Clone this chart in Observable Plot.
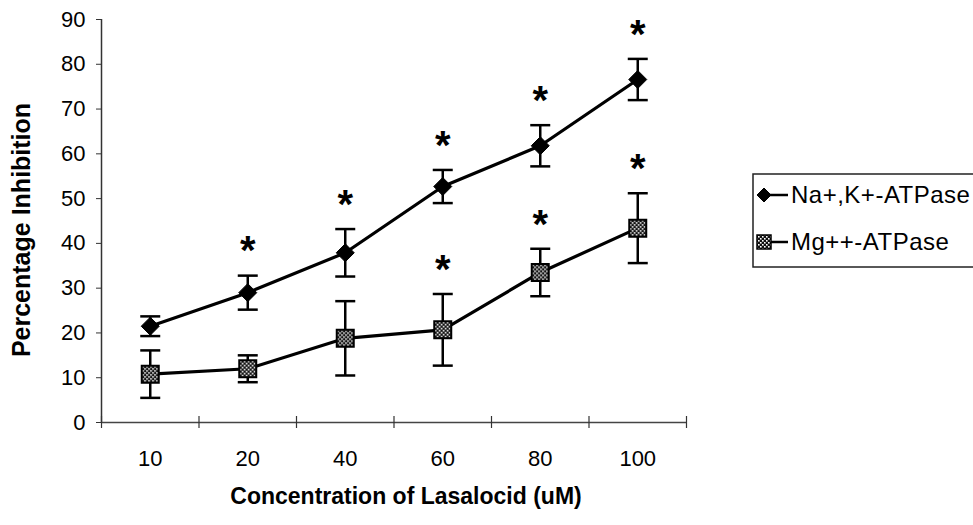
<!DOCTYPE html>
<html>
<head>
<meta charset="utf-8">
<script src="https://cdn.jsdelivr.net/npm/d3@7"></script>
<script src="https://cdn.jsdelivr.net/npm/@observablehq/plot@0.6"></script>
<style>
  html, body { margin: 0; padding: 0; background: #fff; overflow: hidden; }
  #chart { position: relative; width: 973px; height: 525px; }
  #legend { position: absolute; left: 752px; top: 173px; }
</style>
</head>
<body>
<div id="chart"></div>
<script>
// Lasalocid concentrations (uM) and mean % inhibition ± error for each ATPase
const concentrations = ["10", "20", "40", "60", "80", "100"];
const naMean = [21.5, 29.0, 37.9, 52.7, 61.8, 76.6];
const naErr  = [2.2, 3.8, 5.3, 3.7, 4.6, 4.6];
const mgMean = [10.8, 12.0, 18.8, 20.7, 33.5, 43.4];
const mgErr  = [5.3, 3.0, 8.3, 8.0, 5.3, 7.8];
const naSignificant = [false, true, true, true, true, true];
const mgSignificant = [false, false, false, true, true, true];
const seriesNames = ["Na+,K+-ATPase", "Mg++-ATPase"];
const yTicks = d3.range(0, 91, 10);
const xTitle = "Concentration of Lasalocid (uM)";
const yTitle = "Percentage Inhibition";

const FONT = "Arial, 'Liberation Sans', Helvetica, sans-serif";

// one row per (series, concentration); x is the slot centre on an index scale
const rows = [];
[[naMean, naErr, naSignificant], [mgMean, mgErr, mgSignificant]].forEach(([m, e, s], k) => {
  concentrations.forEach((c, i) => {
    rows.push({series: seriesNames[k], conc: c, x: i + 0.5, mean: m[i], err: e[i], sig: s[i]});
  });
});

// marker shapes
const diamond = {draw(ctx, size) {
  const r = Math.sqrt(size / Math.PI);
  ctx.moveTo(0, -r); ctx.lineTo(r, 0); ctx.lineTo(0, r); ctx.lineTo(-r, 0); ctx.closePath();
}};
const square = {draw(ctx, size) {
  const r = Math.sqrt(size / Math.PI);
  ctx.rect(-r, -r, 2 * r, 2 * r);
}};
const cap = {draw(ctx, size) {
  const r = Math.sqrt(size / Math.PI);
  ctx.moveTo(-r, 0); ctx.lineTo(r, 0);
}};

const na = rows.filter(d => d.series === seriesNames[0]);
const mg = rows.filter(d => d.series === seriesNames[1]);
const slots = d3.range(concentrations.length + 1);
const centres = concentrations.map((c, i) => i + 0.5);

const plot = Plot.plot({
  width: 973,
  height: 525,
  marginLeft: 101,
  marginRight: 287,
  marginTop: 19,
  marginBottom: 103,
  x: {type: "linear", domain: [0, concentrations.length]},
  y: {domain: [0, 90]},
  style: {fontFamily: FONT, fontSize: "22px", color: "#000", background: "#fff"},
  marks: [
    // axes
    Plot.axisY({ticks: yTicks, tickSize: 5, tickPadding: 11, label: null, stroke: "#333", fontSize: 22}),
    Plot.axisX({ticks: centres, tickSize: 0, tickPadding: 28, label: null, fontSize: 22,
                tickFormat: v => concentrations[Math.round(v - 0.5)]}),
    Plot.ruleX([0], {stroke: "#333", strokeWidth: 1.5}),
    Plot.ruleY([0], {stroke: "#444", strokeWidth: 1.5}),
    Plot.ruleX(slots, {x: d => d, y1: 0, y2: 0, insetTop: -6, insetBottom: -6, stroke: "#333", strokeWidth: 1.2}),
    // error bars
    Plot.ruleX(rows, {x: "x", y1: d => d.mean - d.err, y2: d => d.mean + d.err, stroke: "#000", strokeWidth: 2.5}),
    Plot.dot(rows, {x: "x", y: d => d.mean + d.err, symbol: cap, r: 10, stroke: "#000", strokeWidth: 2.5, fill: "none"}),
    Plot.dot(rows, {x: "x", y: d => d.mean - d.err, symbol: cap, r: 10, stroke: "#000", strokeWidth: 2.5, fill: "none"}),
    // series lines
    Plot.line(rows, {x: "x", y: "mean", z: "series", stroke: "#000", strokeWidth: 3.2}),
    // markers
    Plot.dot(na, {x: "x", y: "mean", symbol: diamond, r: 9, fill: "#000", stroke: "#000", strokeWidth: 1}),
    Plot.dot(mg, {x: "x", y: "mean", symbol: square, r: 8.5, fill: "url(#checker)", stroke: "#000", strokeWidth: 2}),
    // significance marks
    Plot.text(rows.filter(d => d.sig), {x: "x", y: d => d.mean + d.err, text: () => "*",
      dy: -24, fontSize: 40, fontWeight: "bold", lineAnchor: "middle"}),
    // axis titles
    Plot.text([yTitle], {frameAnchor: "left", text: d => d, rotate: -90, dx: -80, dy: 9,
      textAnchor: "middle", fontSize: 25, fontWeight: "bold"}),
    Plot.text([xTitle], {frameAnchor: "bottom", text: d => d, dy: 81, dx: 12,
      textAnchor: "middle", fontSize: 23, fontWeight: "bold"})
  ]
});

// checkered fill for the Mg++ markers
const defs = d3.select(plot).insert("defs", ":first-child");
const pat = defs.append("pattern").attr("id", "checker")
  .attr("patternUnits", "userSpaceOnUse").attr("width", 4).attr("height", 4);
pat.append("rect").attr("width", 4).attr("height", 4).attr("fill", "#111");
pat.append("rect").attr("width", 1.6).attr("height", 1.6).attr("fill", "#fff");
pat.append("rect").attr("x", 2).attr("y", 2).attr("width", 1.6).attr("height", 1.6).attr("fill", "#fff");

const chart = document.getElementById("chart");
chart.appendChild(plot);

// legend box
const lg = d3.select(chart).append("svg").attr("id", "legend")
  .attr("width", 230).attr("height", 96);
lg.append("defs").html(defs.html());
lg.append("rect").attr("x", 1).attr("y", 1).attr("width", 226).attr("height", 93)
  .attr("fill", "#fff").attr("stroke", "#222").attr("stroke-width", 1.5);
const symbols = [diamond, square];
seriesNames.forEach((name, k) => {
  const cy = 22 + k * 47;
  const g = lg.append("g");
  g.append("line").attr("x1", 6).attr("x2", 36).attr("y1", cy).attr("y2", cy)
    .attr("stroke", "#000").attr("stroke-width", 2.5);
  const p = d3.path();
  symbols[k].draw(p, Math.PI * 7 * 7);
  g.append("path").attr("d", p.toString()).attr("transform", `translate(12,${cy})`)
    .attr("fill", k === 0 ? "#000" : "url(#checker)").attr("stroke", "#000").attr("stroke-width", k === 0 ? 1 : 1.5);
  g.append("text").attr("x", 39).attr("y", cy).attr("dy", "0.35em")
    .attr("font-family", FONT).attr("font-size", 24).attr("letter-spacing", 0.5).text(name);
});
</script>
</body>
</html>
